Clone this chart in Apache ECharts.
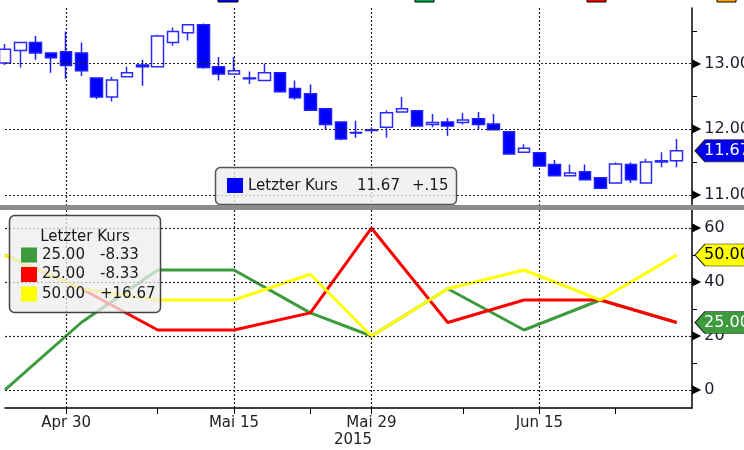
<!DOCTYPE html>
<html><head><meta charset="utf-8">
<script src="https://cdn.jsdelivr.net/npm/echarts@6/dist/echarts.min.js"></script>
<style>html,body{margin:0;padding:0;background:#fff}#c{width:744px;height:450px}</style>
</head><body><div id="c"></div>
<script>
// ---------- data ----------
const dates = ['2015-04-24','2015-04-27','2015-04-28','2015-04-29','2015-04-30','2015-05-01',
  '2015-05-04','2015-05-05','2015-05-06','2015-05-07','2015-05-08','2015-05-11','2015-05-12',
  '2015-05-13','2015-05-14','2015-05-15','2015-05-18','2015-05-19','2015-05-20','2015-05-21',
  '2015-05-22','2015-05-26','2015-05-27','2015-05-28','2015-05-29','2015-06-01','2015-06-02',
  '2015-06-03','2015-06-04','2015-06-05','2015-06-08','2015-06-09','2015-06-10','2015-06-11',
  '2015-06-12','2015-06-15','2015-06-16','2015-06-17','2015-06-18','2015-06-19','2015-06-22',
  '2015-06-23','2015-06-24','2015-06-25','2015-06-26'];
// [open, close, low, high]
const candles = [
  [13.01,13.22,12.98,13.30],[13.20,13.32,12.94,13.33],[13.32,13.16,13.06,13.42],[13.16,13.09,12.86,13.17],
  [13.18,12.97,12.77,13.49],[13.16,12.89,12.81,13.32],[12.78,12.49,12.46,12.79],[12.49,12.75,12.42,12.80],
  [12.80,12.86,12.80,12.95],[12.98,12.95,12.66,13.06],[12.95,13.42,12.94,13.44],[13.32,13.49,13.27,13.55],
  [13.47,13.59,13.35,13.60],[13.59,12.94,12.92,13.61],[12.95,12.84,12.74,13.10],[12.84,12.89,12.84,13.10],
  [12.78,12.77,12.69,12.88],[12.74,12.86,12.74,13.00],[12.86,12.57,12.57,12.87],[12.62,12.48,12.45,12.74],
  [12.54,12.29,12.29,12.68],[12.31,12.07,11.99,12.31],[12.11,11.85,11.83,12.12],[11.95,11.94,11.87,12.13],
  [11.98,11.99,11.95,12.03],[12.03,12.25,11.87,12.29],[12.26,12.31,12.26,12.49],[12.28,12.05,12.04,12.29],
  [12.07,12.10,12.03,12.23],[12.11,12.05,11.90,12.17],[12.10,12.14,12.07,12.25],[12.16,12.07,12.00,12.26],
  [12.08,11.99,11.99,12.23],[11.96,11.62,11.61,11.97],[11.65,11.71,11.64,11.77],[11.64,11.44,11.44,11.65],
  [11.46,11.29,11.29,11.53],[11.29,11.33,11.29,11.46],[11.35,11.23,11.23,11.46],[11.26,11.10,11.10,11.27],
  [11.18,11.47,11.18,11.49],[11.46,11.23,11.18,11.49],[11.18,11.50,11.18,11.55],[11.50,11.52,11.42,11.65],
  [11.52,11.67,11.42,11.85]];
const weekDates = ['2015-04-24','2015-05-01','2015-05-08','2015-05-15','2015-05-22','2015-05-29',
  '2015-06-05','2015-06-12','2015-06-19','2015-06-26'];
const greenVals  = [0, 25, 44.44, 44.44, 28.57, 20, 37.5, 22.22, 33.33, 25];
const redVals    = [50, 37.5, 22.22, 22.22, 28.57, 60, 25, 33.33, 33.33, 25];
const yellowVals = [50, 37.5, 33.33, 33.33, 42.86, 20, 37.5, 44.44, 33.33, 50];
const priceTicks = [11, 12, 13];
const priceMinorTicks = [11.5, 12.5, 13.5];
const indTicks = [0, 20, 40, 60];
const indMinorTicks = [10, 30, 50];
const labelDates = ['2015-04-30','2015-05-15','2015-05-29','2015-06-15'];
const tickDates = ['2015-04-30','2015-05-08','2015-05-15','2015-05-22','2015-05-29','2015-06-08','2015-06-15','2015-06-22'];
const yearLabel = '2015';
const legendTitle = 'Letzter Kurs';
const monthNames = ['Jan','Feb','Mär','Apr','Mai','Jun','Jul','Aug','Sep','Okt','Nov','Dez'];

// ---------- helpers ----------
const FONT = 'DejaVu Sans';
const cats = dates.concat(['']);
const lastIdx = cats.length - 1;
function fmtDate(v){ if(!v) return ''; const p=v.split('-'); return monthNames[+p[1]-1]+' '+(+p[2]); }
function fmtChg(c, short){ let s=Math.abs(c).toFixed(2); if(short) s=s.replace(/^0/,''); return (c>=0?'+':'-')+s; }
const lastClose = candles[candles.length-1][1];
const prevClose = candles[candles.length-2][1];
const lines = [
  {name:'g', vals:greenVals, color:'#3d9a3d', tag:true, tagText:'#ffffff'},
  {name:'r', vals:redVals, color:'#ff0000', tag:false},
  {name:'y', vals:yellowVals, color:'#ffff00', tag:true, tagText:'#000000'}
];
const dash = {color:'#222', type:[2,2], width:1.2};
const tagPath = 'path://M0,11L10,0L52,0L52,22L10,22Z';
function tagMark(value, fill, textColor){
  return {
    symbol: tagPath, symbolSize:[52,22], symbolKeepAspect:false, symbolOffset:[29,0], silent:true,
    itemStyle:{color:fill, borderColor:'#222', borderWidth:1},
    label:{show:true, formatter: value.toFixed(2), color:textColor, fontSize:16, fontFamily:FONT, offset:[6,0]},
    data:[{coord:[lastIdx, value]}]
  };
}
function xAxisCfg(gi, show){
  return {
    type:'category', gridIndex:gi, data:cats, boundaryGap:false,
    axisLine:{show:show, onZero:false, lineStyle:{color:'#000', width:1.5}},
    axisTick:{show:show, interval:(i,v)=>tickDates.includes(v), length:6, lineStyle:{color:'#000', width:1}},
    axisLabel:{show:show, interval:(i,v)=>labelDates.includes(v), formatter:fmtDate, color:'#222',
      fontFamily:FONT, fontSize:15, margin:8},
    splitLine:{show:true, interval:(i,v)=>labelDates.includes(v), lineStyle:dash}
  };
}
function yAxisCfg(gi, min, max, labels, minor, dec){
  return {
    type:'value', gridIndex:gi, position:'right', min:min, max:max,
    axisLine:{show:true, lineStyle:{color:'#000', width:1.5}},
    axisTick:{show:true, customValues:minor, length:5, lineStyle:{color:'#000', width:1}},
    axisLabel:{customValues:labels, margin:0, formatter:v=>'{t|\u25B6}{v|'+v.toFixed(dec)+'}',
      rich:{t:{fontSize:12, color:'#000', fontFamily:FONT}, v:{fontSize:16, color:'#1c1c2a', fontFamily:FONT, padding:[0,0,0,3]}}},
    splitLine:{show:false}
  };
}

const series = [{
  type:'candlestick', xAxisIndex:0, yAxisIndex:0, data:candles, barWidth:12, clip:true,
  itemStyle:{color:'#ffffff', color0:'#0000ff', borderColor:'#2a2aff', borderColor0:'#1f1fff', borderWidth:1.5},
  markLine:{silent:true, symbol:'none', label:{show:false}, lineStyle:dash, data:priceTicks.map(v=>({yAxis:v}))},
  markPoint: tagMark(lastClose, '#0000ee', '#ffffff')
}];
lines.forEach((l, k) => {
  const s = {
    type:'line', xAxisIndex:1, yAxisIndex:1, symbol:'none', clip:true,
    data: weekDates.map((d,i)=>[dates.indexOf(d), l.vals[i]]),
    lineStyle:{color:l.color, width:3}, itemStyle:{color:l.color}
  };
  if (k === 0) s.markLine = {silent:true, symbol:'none', label:{show:false}, lineStyle:dash, data:indTicks.map(v=>({yAxis:v}))};
  if (l.tag) s.markPoint = tagMark(l.vals[l.vals.length-1], l.color, l.tagText);
  series.push(s);
});

// ---------- legends (graphic) ----------
const g = [];
[[218,20,'#0000ff'],[415,19,'#00b050'],[587,19,'#ff0000'],[717,19,'#ffa500']].forEach(r=>{
  g.push({type:'rect', z:100, shape:{x:r[0], y:-3, width:r[1], height:5}, style:{fill:r[2], stroke:'#000', lineWidth:1}});
});
g.push({type:'rect', z:100, shape:{x:0, y:205, width:744, height:5}, style:{fill:'#8c8c8c'}});
g.push({type:'rect', z:90, shape:{x:215.5, y:167.5, width:241, height:37, r:5},
  style:{fill:'rgba(238,238,238,0.8)', stroke:'#555', lineWidth:1.5}});
g.push({type:'rect', z:91, shape:{x:227, y:178, width:16, height:15}, style:{fill:'#0000ff'}});
g.push({type:'text', z:91, x:248, y:186, style:{text:legendTitle, font:'15px "DejaVu Sans"', fill:'#1a1a1a', verticalAlign:'middle'}});
g.push({type:'text', z:91, x:357, y:186, style:{text:lastClose.toFixed(2), font:'15px "DejaVu Sans"', fill:'#1a1a1a', verticalAlign:'middle'}});
g.push({type:'text', z:91, x:412, y:186, style:{text:fmtChg(lastClose-prevClose, true), font:'15px "DejaVu Sans"', fill:'#1a1a1a', verticalAlign:'middle'}});
g.push({type:'rect', z:90, shape:{x:9.5, y:215.5, width:151, height:97, r:5},
  style:{fill:'rgba(238,238,238,0.75)', stroke:'#444', lineWidth:1.5}});
g.push({type:'text', z:91, x:85, y:237, style:{text:legendTitle, font:'15px "DejaVu Sans"', fill:'#1a1a1a', align:'center', verticalAlign:'middle'}});
lines.forEach((l,k)=>{
  const y = 255 + k*19.5;
  const n = l.vals.length;
  g.push({type:'rect', z:91, shape:{x:21, y:y-7.5, width:16, height:15}, style:{fill:l.color}});
  g.push({type:'text', z:91, x:42, y:y, style:{text:l.vals[n-1].toFixed(2), font:'15px "DejaVu Sans"', fill:'#1a1a1a', verticalAlign:'middle'}});
  g.push({type:'text', z:91, x:100, y:y, style:{text:fmtChg(l.vals[n-1]-l.vals[n-2], false), font:'15px "DejaVu Sans"', fill:'#1a1a1a', verticalAlign:'middle'}});
});
g.push({type:'text', z:91, x:353, y:440, style:{text:yearLabel, font:'15px "DejaVu Sans"', fill:'#222', align:'center', verticalAlign:'middle'}});

const chart = echarts.init(document.getElementById('c'), null, {renderer:'canvas'});
chart.setOption({
  animation:false,
  backgroundColor:'#ffffff',
  grid:[{left:5, right:52, top:8, height:197, containLabel:false, outerBoundsMode:'none'},
        {left:5, right:52, top:210, height:198, containLabel:false, outerBoundsMode:'none'}],
  xAxis:[xAxisCfg(0,false), xAxisCfg(1,true)],
  yAxis:[yAxisCfg(0, 10.844, 13.847, priceTicks, priceMinorTicks, 2), yAxisCfg(1, -6.67, 66.67, indTicks, indMinorTicks, 0)],
  series:series,
  graphic:g
});
</script></body></html>
